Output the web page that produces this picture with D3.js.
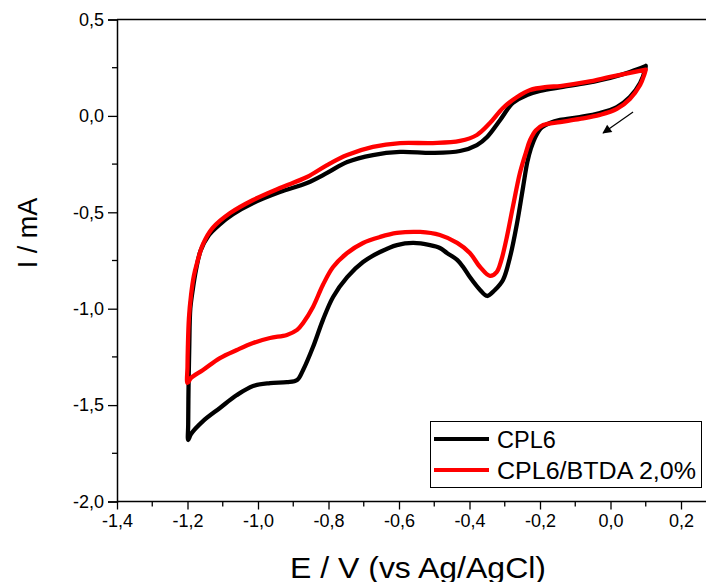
<!DOCTYPE html>
<html><head><meta charset="utf-8">
<script src="https://cdn.jsdelivr.net/npm/d3@7"></script>
<style>html,body{margin:0;padding:0;background:#fff;overflow:hidden}</style>
</head><body>
<svg id="c" width="706" height="582"></svg>
<script>
// CPL6 cyclic voltammogram: [E (V), I (mA)]
const cpl6 = [
 [0.100,0.259],[0.098,0.238],[0.084,0.171],[0.055,0.098],[0.018,0.046],[-0.030,0.015],
 [-0.087,-0.006],[-0.143,-0.021],[-0.172,-0.037],[-0.195,-0.060],[-0.212,-0.105],
 [-0.226,-0.170],[-0.236,-0.240],[-0.248,-0.369],[-0.265,-0.555],[-0.285,-0.732],
 [-0.305,-0.851],[-0.328,-0.903],[-0.350,-0.934],[-0.370,-0.903],[-0.399,-0.836],
 [-0.418,-0.784],[-0.435,-0.747],[-0.464,-0.711],[-0.484,-0.685],[-0.512,-0.670],
 [-0.560,-0.659],[-0.606,-0.670],[-0.654,-0.706],[-0.702,-0.758],[-0.747,-0.836],
 [-0.787,-0.939],[-0.816,-1.059],[-0.844,-1.199],[-0.872,-1.318],[-0.889,-1.370],
 [-0.918,-1.381],[-0.966,-1.386],[-1.014,-1.401],[-1.060,-1.448],[-1.108,-1.515],
 [-1.156,-1.583],[-1.190,-1.650],[-1.198,-1.681],
 [-1.198,-1.600],[-1.197,-1.400],[-1.195,-1.200],[-1.192,-1.000],[-1.185,-0.900],
 [-1.176,-0.800],[-1.163,-0.700],[-1.140,-0.620],[-1.110,-0.565],[-1.071,-0.510],
 [-1.014,-0.452],[-0.938,-0.395],[-0.861,-0.348],[-0.804,-0.296],[-0.747,-0.239],
 [-0.674,-0.203],[-0.597,-0.187],[-0.504,-0.192],[-0.427,-0.182],[-0.379,-0.151],
 [-0.350,-0.109],[-0.313,-0.021],[-0.277,0.067],[-0.237,0.108],[-0.200,0.129],
 [-0.135,0.150],[-0.067,0.171],[-0.001,0.197],[0.055,0.228],[0.100,0.259]
];
// CPL6/BTDA 2,0% cyclic voltammogram: [E (V), I (mA)]
const btda = [
 [0.100,0.240],[0.096,0.215],[0.084,0.160],[0.055,0.088],[0.018,0.036],[-0.030,0.005],
 [-0.087,-0.016],[-0.143,-0.032],[-0.191,-0.047],[-0.212,-0.075],[-0.228,-0.125],
 [-0.240,-0.190],[-0.257,-0.296],[-0.277,-0.472],[-0.294,-0.628],[-0.310,-0.750],
 [-0.323,-0.810],[-0.342,-0.830],[-0.370,-0.784],[-0.399,-0.711],[-0.435,-0.659],
 [-0.484,-0.618],[-0.540,-0.602],[-0.606,-0.607],[-0.654,-0.628],[-0.702,-0.659],
 [-0.747,-0.711],[-0.787,-0.784],[-0.816,-0.877],[-0.844,-0.991],[-0.872,-1.074],
 [-0.889,-1.110],[-0.918,-1.136],[-0.966,-1.152],[-1.014,-1.178],[-1.060,-1.214],
 [-1.108,-1.256],[-1.156,-1.318],[-1.190,-1.359],[-1.200,-1.385],
 [-1.200,-1.300],[-1.199,-1.200],[-1.196,-1.050],[-1.190,-0.930],[-1.182,-0.830],
 [-1.173,-0.763],[-1.156,-0.665],[-1.128,-0.580],[-1.079,-0.504],[-1.014,-0.436],
 [-0.938,-0.374],[-0.861,-0.317],[-0.804,-0.255],[-0.747,-0.203],[-0.674,-0.161],
 [-0.597,-0.141],[-0.504,-0.141],[-0.427,-0.130],[-0.379,-0.099],[-0.342,-0.037],
 [-0.305,0.041],[-0.265,0.098],[-0.228,0.134],[-0.180,0.150],[-0.143,0.155],
 [-0.067,0.176],[-0.001,0.202],[0.055,0.223],[0.100,0.240]
];
const seriesNames = ["CPL6", "CPL6/BTDA 2,0%"];
const seriesColors = ["#000000", "#ff0000"];
const xTicks = [-1.4,-1.2,-1.0,-0.8,-0.6,-0.4,-0.2,0.0,0.2];
const yTicks = [0.5,0.0,-0.5,-1.0,-1.5,-2.0];
const xMinor = [-1.3,-1.1,-0.9,-0.7,-0.5,-0.3,-0.1,0.1,0.3];
const yMinor = [0.25,-0.25,-0.75,-1.25,-1.75];
const arrowFrom = [0.064, 0.020];
const arrowTo = [-0.021, -0.089];

const svg = d3.select("#c");
const x = d3.scaleLinear().domain([-1.4, 0.3]).range([117, 716.25]);
const y = d3.scaleLinear().domain([-2.0, 0.5]).range([501.5, 19.5]);
const fmt = d => d3.format(".1f")(d).replace("−","-").replace(".", ",");
const font = "Liberation Sans, Arial, sans-serif";

// frame top line
svg.append("line").attr("x1", x(-1.4)).attr("x2", 706).attr("y1", y(0.5)).attr("y2", y(0.5))
  .attr("stroke", "#000").attr("stroke-width", 1.5);

// x axis
const gx = svg.append("g").attr("transform", `translate(0,${y(-2.0)})`)
  .call(d3.axisBottom(x).tickValues(xTicks).tickFormat(fmt).tickSize(8).tickPadding(5));
gx.append("g").selectAll("line").data(xMinor).join("line")
  .attr("x1", d => x(d)).attr("x2", d => x(d)).attr("y1", 0).attr("y2", 5)
  .attr("stroke", "#000").attr("stroke-width", 1.3);
// y axis
const gy = svg.append("g").attr("transform", `translate(${x(-1.4)},0)`)
  .call(d3.axisLeft(y).tickValues(yTicks).tickFormat(fmt).tickSize(9).tickPadding(4));
gy.append("g").selectAll("line").data(yMinor).join("line")
  .attr("y1", d => y(d)).attr("y2", d => y(d)).attr("x1", 0).attr("x2", -5)
  .attr("stroke", "#000").attr("stroke-width", 1.3);

[gx, gy].forEach(g => {
  g.select(".domain").attr("stroke", "#000").attr("stroke-width", 1.5);
  g.selectAll(".tick line").attr("stroke", "#000").attr("stroke-width", 1.3);
  g.selectAll(".tick text").attr("fill", "#000").style("font-family", font).style("font-size", "18px");
});
gx.select(".domain").attr("d", `M${x(-1.4)},0H706`);

// curves
const line = d3.line().x(d => x(d[0])).y(d => y(d[1])).curve(d3.curveCatmullRom.alpha(0.5));
[cpl6, btda].forEach((data, i) => {
  svg.append("path").datum(data).attr("d", line)
    .attr("fill", "none").attr("stroke", seriesColors[i]).attr("stroke-width", 4.3)
    .attr("stroke-linejoin", "round").attr("stroke-linecap", "round");
});

// arrow
svg.append("defs").append("marker").attr("id", "ah").attr("viewBox", "0 0 10 10")
  .attr("refX", 9).attr("refY", 5).attr("markerWidth", 12).attr("markerHeight", 9)
  .attr("markerUnits", "userSpaceOnUse").attr("orient", "auto")
  .append("path").attr("d", "M0,0L10,5L0,10Z").attr("fill", "#000");
svg.append("line").attr("x1", x(arrowFrom[0])).attr("y1", y(arrowFrom[1]))
  .attr("x2", x(arrowTo[0])).attr("y2", y(arrowTo[1]))
  .attr("stroke", "#000").attr("stroke-width", 1.2).attr("marker-end", "url(#ah)");

// legend
const lg = svg.append("g");
lg.append("rect").attr("x", 430.5).attr("y", 421.5).attr("width", 271).attr("height", 66)
  .attr("fill", "#fff").attr("stroke", "#000").attr("stroke-width", 1);
seriesNames.forEach((n, i) => {
  const yy = 439 + i * 31;
  lg.append("line").attr("x1", 434).attr("x2", 489).attr("y1", yy).attr("y2", yy)
    .attr("stroke", seriesColors[i]).attr("stroke-width", 4);
  lg.append("text").attr("x", 497).attr("y", yy + 8.5).text(n)
    .attr("textLength", i === 0 ? null : 199).attr("lengthAdjust", "spacingAndGlyphs")
    .style("font-family", font).style("font-size", "23.5px").attr("fill", "#000");
});

// axis titles
svg.append("text").attr("x", 418).attr("y", 578).attr("text-anchor", "middle")
  .attr("textLength", 256).attr("lengthAdjust", "spacingAndGlyphs")
  .text("E / V (vs Ag/AgCl)").style("font-family", font).style("font-size", "29px");
svg.append("text").attr("transform", "translate(37,233) rotate(-90)").attr("text-anchor", "middle")
  .text("I / mA").style("font-family", font).style("font-size", "27px");
</script>
</body></html>
